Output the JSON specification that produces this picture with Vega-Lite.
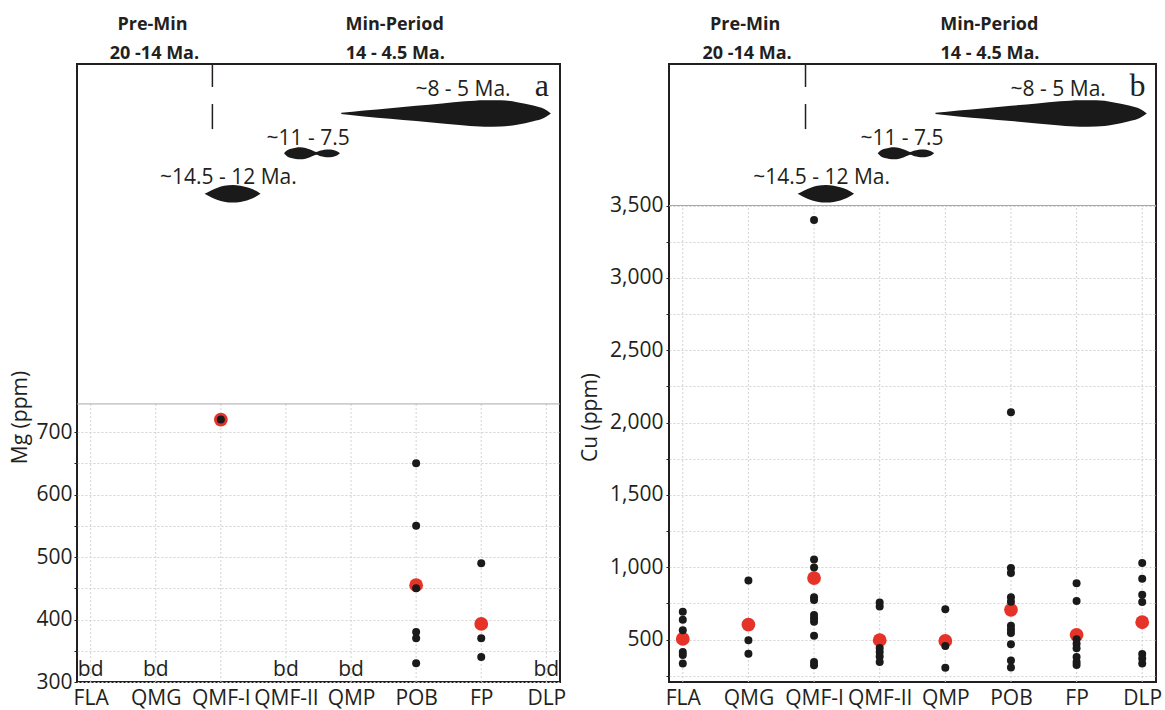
{
  "$schema": "https://vega.github.io/schema/vega-lite/v6.json",
  "padding": {"left": 8, "top": 15, "right": 5, "bottom": 0},
  "bounds": "flush",
  "spacing": 109,
  "config": {
    "view": {"stroke": "#231f20", "strokeWidth": 2},
    "font": "Open Sans",
    "axis": {"labelFont": "Open Sans", "titleFont": "Open Sans", "labelColor": "#231f20", "titleColor": "#231f20"},
    "text": {"font": "Open Sans", "color": "#231f20"}
  },
  "datasets": {
    "cats": [
      {"cat": "FLA"}, {"cat": "QMG"}, {"cat": "QMF-I"}, {"cat": "QMF-II"},
      {"cat": "QMP"}, {"cat": "POB"}, {"cat": "FP"}, {"cat": "DLP"}
    ],
    "mg": [
      {"cat": "QMF-I", "v": 720, "kind": "mean"},
      {"cat": "POB", "v": 455, "kind": "mean"},
      {"cat": "FP", "v": 393, "kind": "mean"},
      {"cat": "QMF-I", "v": 720, "kind": "sample"},
      {"cat": "POB", "v": 650, "kind": "sample"},
      {"cat": "POB", "v": 550, "kind": "sample"},
      {"cat": "POB", "v": 450, "kind": "sample"},
      {"cat": "POB", "v": 380, "kind": "sample"},
      {"cat": "POB", "v": 370, "kind": "sample"},
      {"cat": "POB", "v": 330, "kind": "sample"},
      {"cat": "FP", "v": 490, "kind": "sample"},
      {"cat": "FP", "v": 370, "kind": "sample"},
      {"cat": "FP", "v": 340, "kind": "sample"}
    ],
    "mgBd": [
      {"cat": "FLA", "note": "bd"}, {"cat": "QMG", "note": "bd"}, {"cat": "QMF-II", "note": "bd"},
      {"cat": "QMP", "note": "bd"}, {"cat": "DLP", "note": "bd"}
    ],
    "cu": [
      {"cat": "FLA", "v": 505, "kind": "mean"},
      {"cat": "QMG", "v": 604, "kind": "mean"},
      {"cat": "QMF-I", "v": 925, "kind": "mean"},
      {"cat": "QMF-II", "v": 496, "kind": "mean"},
      {"cat": "QMP", "v": 491, "kind": "mean"},
      {"cat": "POB", "v": 706, "kind": "mean"},
      {"cat": "FP", "v": 533, "kind": "mean"},
      {"cat": "DLP", "v": 620, "kind": "mean"},
      {"cat": "FLA", "v": 693, "kind": "sample"},
      {"cat": "FLA", "v": 638, "kind": "sample"},
      {"cat": "FLA", "v": 565, "kind": "sample"},
      {"cat": "FLA", "v": 414, "kind": "sample"},
      {"cat": "FLA", "v": 393, "kind": "sample"},
      {"cat": "FLA", "v": 335, "kind": "sample"},
      {"cat": "QMG", "v": 909, "kind": "sample"},
      {"cat": "QMG", "v": 496, "kind": "sample"},
      {"cat": "QMG", "v": 403, "kind": "sample"},
      {"cat": "QMF-I", "v": 3400, "kind": "sample"},
      {"cat": "QMF-I", "v": 1053, "kind": "sample"},
      {"cat": "QMF-I", "v": 999, "kind": "sample"},
      {"cat": "QMF-I", "v": 792, "kind": "sample"},
      {"cat": "QMF-I", "v": 774, "kind": "sample"},
      {"cat": "QMF-I", "v": 670, "kind": "sample"},
      {"cat": "QMF-I", "v": 647, "kind": "sample"},
      {"cat": "QMF-I", "v": 623, "kind": "sample"},
      {"cat": "QMF-I", "v": 526, "kind": "sample"},
      {"cat": "QMF-I", "v": 345, "kind": "sample"},
      {"cat": "QMF-I", "v": 322, "kind": "sample"},
      {"cat": "QMF-II", "v": 756, "kind": "sample"},
      {"cat": "QMF-II", "v": 728, "kind": "sample"},
      {"cat": "QMF-II", "v": 442, "kind": "sample"},
      {"cat": "QMF-II", "v": 414, "kind": "sample"},
      {"cat": "QMF-II", "v": 384, "kind": "sample"},
      {"cat": "QMF-II", "v": 345, "kind": "sample"},
      {"cat": "QMP", "v": 709, "kind": "sample"},
      {"cat": "QMP", "v": 456, "kind": "sample"},
      {"cat": "QMP", "v": 305, "kind": "sample"},
      {"cat": "POB", "v": 2072, "kind": "sample"},
      {"cat": "POB", "v": 994, "kind": "sample"},
      {"cat": "POB", "v": 960, "kind": "sample"},
      {"cat": "POB", "v": 792, "kind": "sample"},
      {"cat": "POB", "v": 762, "kind": "sample"},
      {"cat": "POB", "v": 595, "kind": "sample"},
      {"cat": "POB", "v": 570, "kind": "sample"},
      {"cat": "POB", "v": 545, "kind": "sample"},
      {"cat": "POB", "v": 468, "kind": "sample"},
      {"cat": "POB", "v": 355, "kind": "sample"},
      {"cat": "POB", "v": 308, "kind": "sample"},
      {"cat": "FP", "v": 890, "kind": "sample"},
      {"cat": "FP", "v": 767, "kind": "sample"},
      {"cat": "FP", "v": 503, "kind": "sample"},
      {"cat": "FP", "v": 472, "kind": "sample"},
      {"cat": "FP", "v": 440, "kind": "sample"},
      {"cat": "FP", "v": 380, "kind": "sample"},
      {"cat": "FP", "v": 345, "kind": "sample"},
      {"cat": "FP", "v": 325, "kind": "sample"},
      {"cat": "DLP", "v": 1030, "kind": "sample"},
      {"cat": "DLP", "v": 920, "kind": "sample"},
      {"cat": "DLP", "v": 810, "kind": "sample"},
      {"cat": "DLP", "v": 760, "kind": "sample"},
      {"cat": "DLP", "v": 400, "kind": "sample"},
      {"cat": "DLP", "v": 370, "kind": "sample"},
      {"cat": "DLP", "v": 335, "kind": "sample"}
    ],
    "spindles": [
      {"phase": "early", "pos": 1.75, "top": 79.0, "bot": 79.0},
      {"phase": "early", "pos": 1.85, "top": 79.55, "bot": 78.45},
      {"phase": "early", "pos": 1.95, "top": 79.99, "bot": 78.01},
      {"phase": "early", "pos": 2.05, "top": 80.28, "bot": 77.72},
      {"phase": "early", "pos": 2.18, "top": 80.43, "bot": 77.57},
      {"phase": "early", "pos": 2.30, "top": 80.31, "bot": 77.69},
      {"phase": "early", "pos": 2.40, "top": 80.07, "bot": 77.93},
      {"phase": "early", "pos": 2.50, "top": 79.68, "bot": 78.32},
      {"phase": "early", "pos": 2.61, "top": 79.0, "bot": 79.0},
      {"phase": "middle", "pos": 2.97, "top": 85.54, "bot": 85.54},
      {"phase": "middle", "pos": 3.02, "top": 86.03, "bot": 85.05},
      {"phase": "middle", "pos": 3.08, "top": 86.29, "bot": 84.79},
      {"phase": "middle", "pos": 3.15, "top": 86.45, "bot": 84.63},
      {"phase": "middle", "pos": 3.22, "top": 86.51, "bot": 84.57},
      {"phase": "middle", "pos": 3.30, "top": 86.41, "bot": 84.67},
      {"phase": "middle", "pos": 3.37, "top": 86.16, "bot": 84.92},
      {"phase": "middle", "pos": 3.43, "top": 85.90, "bot": 85.18},
      {"phase": "middle", "pos": 3.47, "top": 85.78, "bot": 85.30},
      {"phase": "middle", "pos": 3.51, "top": 85.93, "bot": 85.15},
      {"phase": "middle", "pos": 3.56, "top": 86.06, "bot": 85.02},
      {"phase": "middle", "pos": 3.62, "top": 86.16, "bot": 84.92},
      {"phase": "middle", "pos": 3.68, "top": 86.16, "bot": 84.92},
      {"phase": "middle", "pos": 3.74, "top": 86.04, "bot": 85.04},
      {"phase": "middle", "pos": 3.79, "top": 85.83, "bot": 85.25},
      {"phase": "middle", "pos": 3.83, "top": 85.54, "bot": 85.54},
      {"phase": "late", "pos": 3.85, "top": 92.10, "bot": 91.90},
      {"phase": "late", "pos": 4.20, "top": 92.48, "bot": 91.52},
      {"phase": "late", "pos": 4.60, "top": 92.86, "bot": 91.14},
      {"phase": "late", "pos": 5.00, "top": 93.24, "bot": 90.76},
      {"phase": "late", "pos": 5.40, "top": 93.62, "bot": 90.38},
      {"phase": "late", "pos": 5.75, "top": 93.96, "bot": 90.04},
      {"phase": "late", "pos": 6.05, "top": 94.15, "bot": 89.85},
      {"phase": "late", "pos": 6.30, "top": 94.12, "bot": 89.88},
      {"phase": "late", "pos": 6.55, "top": 93.83, "bot": 90.17},
      {"phase": "late", "pos": 6.80, "top": 93.28, "bot": 90.72},
      {"phase": "late", "pos": 6.97, "top": 92.70, "bot": 91.30},
      {"phase": "late", "pos": 7.07, "top": 92.0, "bot": 92.0}
    ],
    "divider": [
      {"pos": 1.87, "from": 100, "to": 96.28},
      {"pos": 1.87, "from": 93.52, "to": 89.47}
    ],
    "headers": [
      {"pos": 0.95, "h": 105.46, "label": "Pre-Min"},
      {"pos": 0.98, "h": 100.76, "label": "20 -14 Ma."},
      {"pos": 4.67, "h": 105.46, "label": "Min-Period"},
      {"pos": 4.68, "h": 100.76, "label": "14 - 4.5 Ma."}
    ],
    "ages": [
      {"pos": 2.115, "h": 80.57, "label": "~14.5 - 12 Ma."},
      {"pos": 3.34, "h": 86.88, "label": "~11 - 7.5"},
      {"pos": 5.72, "h": 94.9, "label": "~8 - 5 Ma."}
    ]
  },
  "hconcat": [
    {
      "width": 483,
      "height": 618,
      "layer": [
        {
          "layer": [
            {
              "data": {"name": "cats"},
              "mark": {"type": "rule", "color": "#d2d2d2", "strokeDash": [2, 2], "strokeWidth": 1},
              "encoding": {
                "x": {
                  "field": "cat", "type": "nominal",
                  "scale": {"type": "point", "domain": ["FLA", "QMG", "QMF-I", "QMF-II", "QMP", "POB", "FP", "DLP"], "padding": 0.21},
                  "axis": {"title": null, "labelFontSize": 21, "labelAngle": 0, "ticks": false, "domain": false, "grid": false, "labelPadding": 5, "labelOverlap": false}
                },
                "y": {
                  "datum": 300, "type": "quantitative",
                  "scale": {"domain": [300, 1289], "nice": false, "zero": false},
                  "axis": {
                    "title": "Mg (ppm)", "values": [300, 350, 400, 450, 500, 550, 600, 650, 700],
                    "labelExpr": "datum.value % 100 === 0 ? datum.label : ''",
                    "grid": true, "gridColor": "#d2d2d2", "gridDash": [2, 2],
                    "domain": false, "tickSize": 3, "tickColor": "#231f20", "labelPadding": 2,
                    "labelFontSize": 21, "titleFontSize": 21, "titleFontWeight": "normal",
                    "titleAngle": -90, "titleAlign": "center", "titleBaseline": "alphabetic",
                    "titleX": -51, "titleY": 353
                  }
                },
                "y2": {"datum": 745}
              }
            },
            {
              "data": {"values": [{}]},
              "mark": {"type": "rule", "color": "#a8a8a8", "strokeWidth": 1},
              "encoding": {"y": {"datum": 745, "type": "quantitative"}}
            },
            {
              "data": {"name": "mgBd"},
              "mark": {"type": "text", "fontSize": 21, "baseline": "alphabetic", "align": "center", "dy": -6},
              "encoding": {
                "x": {"field": "cat", "type": "nominal"},
                "y": {"datum": 300, "type": "quantitative"},
                "text": {"field": "note"}
              }
            },
            {
              "data": {"name": "mg"},
              "transform": [{"filter": "datum.kind === 'mean'"}],
              "mark": {"type": "circle", "color": "#e5332a", "size": 190, "opacity": 1},
              "encoding": {
                "x": {"field": "cat", "type": "nominal"},
                "y": {"field": "v", "type": "quantitative"}
              }
            },
            {
              "data": {"name": "mg"},
              "transform": [{"filter": "datum.kind === 'sample'"}],
              "mark": {"type": "circle", "color": "#1a1a1a", "size": 64, "opacity": 1},
              "encoding": {
                "x": {"field": "cat", "type": "nominal"},
                "y": {"field": "v", "type": "quantitative"}
              }
            }
          ]
        },
        {
          "layer": [
            {
              "data": {"name": "spindles"},
              "mark": {"type": "area", "color": "#1a1a1a", "interpolate": "monotone", "opacity": 1},
              "encoding": {
                "x": {"field": "pos", "type": "quantitative", "scale": {"domain": [-0.21, 7.21], "nice": false, "zero": false}, "axis": null},
                "y": {"field": "top", "type": "quantitative", "scale": {"domain": [0, 100], "nice": false, "zero": false}, "axis": null},
                "y2": {"field": "bot"},
                "detail": {"field": "phase"}
              }
            },
            {
              "data": {"name": "divider"},
              "mark": {"type": "rule", "color": "#231f20", "strokeWidth": 1.5},
              "encoding": {
                "x": {"field": "pos", "type": "quantitative"},
                "y": {"field": "from", "type": "quantitative"},
                "y2": {"field": "to"}
              }
            },
            {
              "data": {"name": "headers"},
              "mark": {"type": "text", "fontSize": 18, "fontWeight": "bold", "baseline": "alphabetic", "align": "center"},
              "encoding": {
                "x": {"field": "pos", "type": "quantitative"},
                "y": {"field": "h", "type": "quantitative"},
                "text": {"field": "label"}
              }
            },
            {
              "data": {"name": "ages"},
              "mark": {"type": "text", "fontSize": 21, "baseline": "alphabetic", "align": "center"},
              "encoding": {
                "x": {"field": "pos", "type": "quantitative"},
                "y": {"field": "h", "type": "quantitative"},
                "text": {"field": "label"}
              }
            },
            {
              "data": {"values": [{"panel": "a"}]},
              "mark": {"type": "text", "fontSize": 32, "font": "Liberation Serif", "baseline": "alphabetic", "align": "center"},
              "encoding": {
                "x": {"datum": 6.93, "type": "quantitative"},
                "y": {"datum": 94.8, "type": "quantitative"},
                "text": {"field": "panel"}
              }
            }
          ]
        }
      ],
      "resolve": {"scale": {"x": "independent", "y": "independent"}, "axis": {"x": "independent", "y": "independent"}}
    },
    {
      "width": 487,
      "height": 618,
      "layer": [
        {
          "layer": [
            {
              "data": {"name": "cats"},
              "mark": {"type": "rule", "color": "#d2d2d2", "strokeDash": [2, 2], "strokeWidth": 1},
              "encoding": {
                "x": {
                  "field": "cat", "type": "nominal",
                  "scale": {"type": "point", "domain": ["FLA", "QMG", "QMF-I", "QMF-II", "QMP", "POB", "FP", "DLP"], "padding": 0.21},
                  "axis": {"title": null, "labelFontSize": 21, "labelAngle": 0, "ticks": false, "domain": false, "grid": false, "labelPadding": 5, "labelOverlap": false}
                },
                "y": {
                  "datum": 207, "type": "quantitative",
                  "scale": {"domain": [207, 4478], "nice": false, "zero": false},
                  "axis": {
                    "title": "Cu (ppm)", "values": [250, 500, 750, 1000, 1250, 1500, 1750, 2000, 2250, 2500, 2750, 3000, 3250, 3500],
                    "format": ",d",
                    "labelExpr": "datum.value % 500 === 0 ? datum.label : ''",
                    "grid": true, "gridColor": "#d2d2d2", "gridDash": [2, 2],
                    "domain": false, "tickSize": 3, "tickColor": "#231f20", "labelPadding": 3,
                    "labelFontSize": 21, "titleFontSize": 21, "titleFontWeight": "normal",
                    "titleAngle": -90, "titleAlign": "center", "titleBaseline": "alphabetic",
                    "titleX": -73, "titleY": 353
                  }
                },
                "y2": {"datum": 3500}
              }
            },
            {
              "data": {"values": [{}]},
              "mark": {"type": "rule", "color": "#a8a8a8", "strokeWidth": 1},
              "encoding": {"y": {"datum": 3500, "type": "quantitative"}}
            },
            {
              "data": {"name": "cu"},
              "transform": [{"filter": "datum.kind === 'mean'"}],
              "mark": {"type": "circle", "color": "#e5332a", "size": 190, "opacity": 1},
              "encoding": {
                "x": {"field": "cat", "type": "nominal"},
                "y": {"field": "v", "type": "quantitative"}
              }
            },
            {
              "data": {"name": "cu"},
              "transform": [{"filter": "datum.kind === 'sample'"}],
              "mark": {"type": "circle", "color": "#1a1a1a", "size": 64, "opacity": 1},
              "encoding": {
                "x": {"field": "cat", "type": "nominal"},
                "y": {"field": "v", "type": "quantitative"}
              }
            }
          ]
        },
        {
          "layer": [
            {
              "data": {"name": "spindles"},
              "mark": {"type": "area", "color": "#1a1a1a", "interpolate": "monotone", "opacity": 1},
              "encoding": {
                "x": {"field": "pos", "type": "quantitative", "scale": {"domain": [-0.21, 7.21], "nice": false, "zero": false}, "axis": null},
                "y": {"field": "top", "type": "quantitative", "scale": {"domain": [0, 100], "nice": false, "zero": false}, "axis": null},
                "y2": {"field": "bot"},
                "detail": {"field": "phase"}
              }
            },
            {
              "data": {"name": "divider"},
              "mark": {"type": "rule", "color": "#231f20", "strokeWidth": 1.5},
              "encoding": {
                "x": {"field": "pos", "type": "quantitative"},
                "y": {"field": "from", "type": "quantitative"},
                "y2": {"field": "to"}
              }
            },
            {
              "data": {"name": "headers"},
              "mark": {"type": "text", "fontSize": 18, "fontWeight": "bold", "baseline": "alphabetic", "align": "center"},
              "encoding": {
                "x": {"field": "pos", "type": "quantitative"},
                "y": {"field": "h", "type": "quantitative"},
                "text": {"field": "label"}
              }
            },
            {
              "data": {"name": "ages"},
              "mark": {"type": "text", "fontSize": 21, "baseline": "alphabetic", "align": "center"},
              "encoding": {
                "x": {"field": "pos", "type": "quantitative"},
                "y": {"field": "h", "type": "quantitative"},
                "text": {"field": "label"}
              }
            },
            {
              "data": {"values": [{"panel": "b"}]},
              "mark": {"type": "text", "fontSize": 32, "font": "Liberation Serif", "baseline": "alphabetic", "align": "center"},
              "encoding": {
                "x": {"datum": 6.93, "type": "quantitative"},
                "y": {"datum": 94.8, "type": "quantitative"},
                "text": {"field": "panel"}
              }
            }
          ]
        }
      ],
      "resolve": {"scale": {"x": "independent", "y": "independent"}, "axis": {"x": "independent", "y": "independent"}}
    }
  ]
}
